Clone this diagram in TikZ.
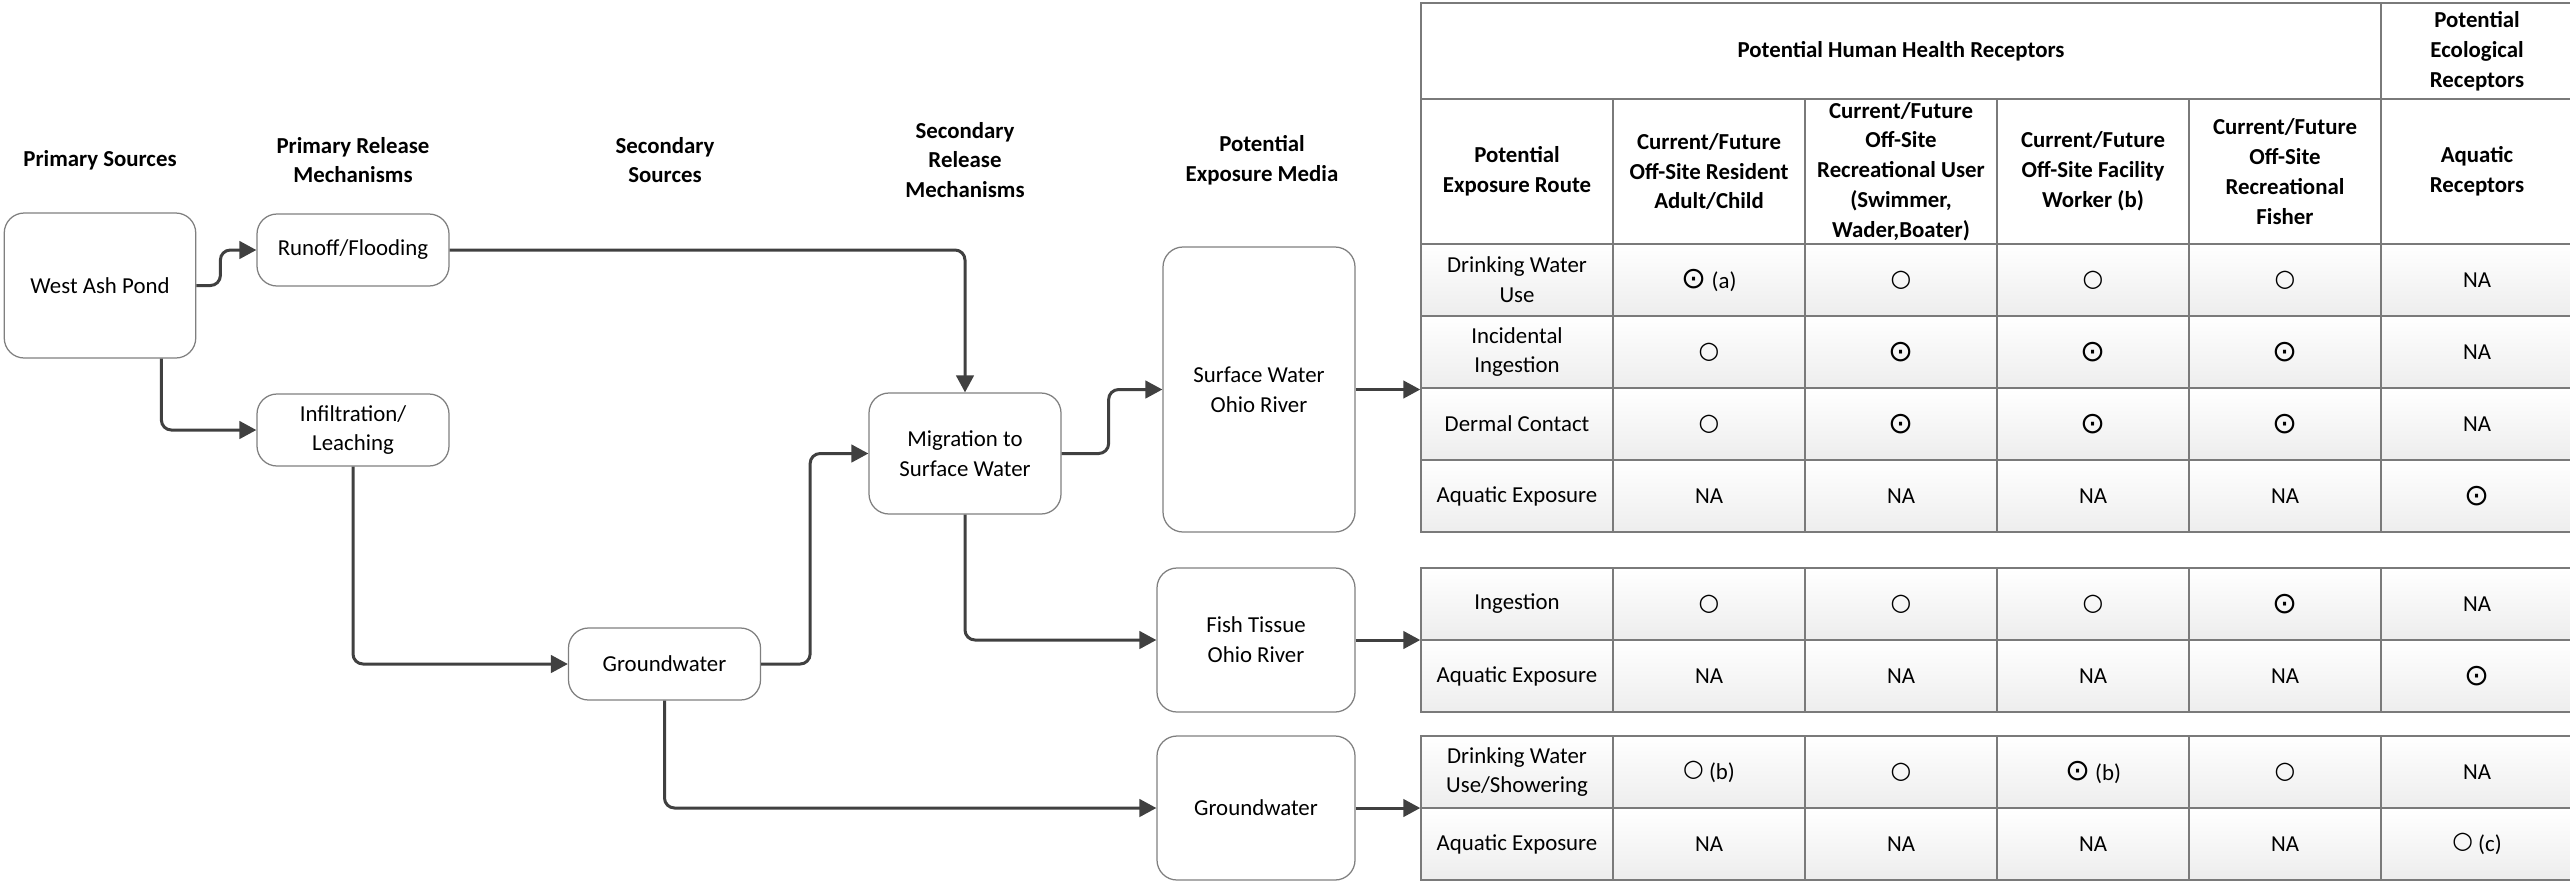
\documentclass[tikz,border=0pt]{standalone}
\usepackage{fontspec}
\setmainfont{Carlito}
\newfontfamily\dejavu{DejaVu Sans}
\usepackage{tikz}
\usetikzlibrary{arrows.meta}

\begin{document}
\begin{tikzpicture}[x=0.2mm, y=-0.2mm,
  every node/.style={font=\fontsize{13}{17}\selectfont},
  head/.style={font=\fontsize{13}{17}\selectfont\bfseries, align=center},
  box/.style={draw=boxGray, line width=0.25mm, rounded corners=4mm, align=center, minimum width=38.4mm},
  flow/.style={draw=lineDark, line width=0.6mm, rounded corners=2mm, -{Triangle[length=3.4mm,width=3.5mm]}},
  cell/.style={draw=gridGray, line width=0.3mm, top color=white, bottom color=black!7, align=center,
    minimum width=38.4mm, minimum height=14.4mm, inner sep=0pt},
  thead/.style={cell, top color=white, bottom color=white, font=\fontsize{13}{17}\selectfont\bfseries}]

% Colours
\definecolor{lineDark}{HTML}{404040}
\definecolor{boxGray}{HTML}{7F7F7F}
\definecolor{gridGray}{HTML}{7A7A7A}

% Symbols
\def\opn{\raisebox{0.3ex}{\dejavu\bfseries\fontsize{13.5}{15}\selectfont ○}}
\def\pnt{{\dejavu\fontsize{17}{18}\selectfont ⊙}}

\useasboundingbox (0,0) rectangle (2570,888);

% Column titles
\node[head] (hPrim) at (100,160) {Primary Sources};
\node[head] (hRel) at (353,160) {Primary Release\\Mechanisms};
\node[head] (hSec) at (665,160) {Secondary\\Sources};
\node[head] (hSecRel) at (965,160) {Secondary\\Release\\Mechanisms};
\node[head] (hMed) at (1262,160) {Potential\\Exposure Media};

% Sources and release mechanisms
\node[box, minimum width=38.3mm, minimum height=29mm] (wap) at (100,285.5) {West Ash Pond};
\node[box, minimum height=14.4mm] (runoff) at (353,250) {Runoff/Flooding};
\node[box, minimum height=14.4mm] (infil) at (353,430) {Infiltration/\\Leaching};
\node[box, minimum height=14.4mm] (gwSec) at (664.5,664) {Groundwater};
\node[box, minimum height=24.2mm] (migr) at (965,453.5) {Migration to\\Surface Water};

% Exposure media
\node[box, minimum height=57mm] (surf) at (1259,389.5) {Surface Water\\Ohio River};
\node[box, minimum width=39.6mm, minimum height=28.8mm] (fish) at (1256,640) {Fish Tissue\\Ohio River};
\node[box, minimum width=39.6mm, minimum height=28.8mm] (gwMed) at (1256,808) {Groundwater};

% Table heading
\node[thead, minimum width=192mm, minimum height=19.2mm] (hHuman) at (1901,51) {Potential Human Health Receptors};
\node[thead, minimum height=19.2mm] (hEco) at (2477,51) {Potential\\Ecological\\Receptors};
\node[thead, minimum height=29mm] (c0) at (1517,171.5) {Potential\\Exposure Route};
\node[thead, minimum height=29mm] (c1) at (1709,171.5) {Current/Future\\Off-Site Resident\\Adult/Child};
\node[thead, minimum height=29mm] (c2) at (1901,171.5) {Current/Future\\Off-Site\\Recreational User\\(Swimmer,\\Wader,Boater)};
\node[thead, minimum height=29mm] (c3) at (2093,171.5) {Current/Future\\Off-Site Facility\\Worker (b)};
\node[thead, minimum height=29mm] (c4) at (2285,171.5) {Current/Future\\Off-Site\\Recreational\\Fisher};
\node[thead, minimum height=29mm] (c5) at (2477,171.5) {Aquatic\\Receptors};

% Table rows
\def\exprow#1#2#3#4#5#6#7#8{
  \node[cell] (#1-0) at (1517,#2) {#3};
  \node[cell] (#1-1) at (1709,#2) {#4};
  \node[cell] (#1-2) at (1901,#2) {#5};
  \node[cell] (#1-3) at (2093,#2) {#6};
  \node[cell] (#1-4) at (2285,#2) {#7};
  \node[cell] (#1-5) at (2477,#2) {#8};
}
\exprow{sw1}{280}{Drinking Water\\Use}{\pnt{} (a)}{\opn}{\opn}{\opn}{NA}
\exprow{sw2}{352}{Incidental\\Ingestion}{\opn}{\pnt}{\pnt}{\pnt}{NA}
\exprow{sw3}{424}{Dermal Contact}{\opn}{\pnt}{\pnt}{\pnt}{NA}
\exprow{sw4}{496}{Aquatic Exposure}{NA}{NA}{NA}{NA}{\pnt}
\exprow{ft1}{604}{Ingestion}{\opn}{\opn}{\opn}{\pnt}{NA}
\exprow{ft2}{676}{Aquatic Exposure}{NA}{NA}{NA}{NA}{\pnt}
\exprow{gw1}{772}{Drinking Water\\Use/Showering}{\opn{} (b)}{\opn}{\pnt{} (b)}{\opn}{NA}
\exprow{gw2}{844}{Aquatic Exposure}{NA}{NA}{NA}{NA}{\opn{} (c)}

% Connectors
\draw[flow] (wap.east) -- ++(24,0) |- (runoff.west);
\draw[flow] ([xshift=-7mm]wap.south east) |- (infil.west);
\draw[flow] (runoff.east) -| (migr.north);
\draw[flow] (infil.south) |- (gwSec.west);
\draw[flow] (gwSec.east) -- ++(49,0) |- (migr.west);
\draw[flow] (migr.east) -- ++(47,0) |- (surf.west);
\draw[flow] (migr.south) |- (fish.west);
\draw[flow] (gwSec.south) |- (gwMed.west);
\draw[flow] (surf.east) -- (surf.east -| sw3-0.west);
\draw[flow] (fish.east) -- (fish.east -| ft2-0.west);
\draw[flow] (gwMed.east) -- (gwMed.east -| gw2-0.west);

\end{tikzpicture}
\end{document}
